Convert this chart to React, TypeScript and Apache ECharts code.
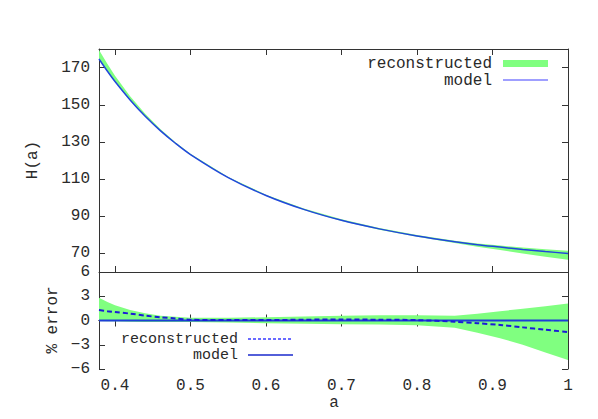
import React, { useEffect, useRef } from "react";
import * as echarts from "echarts";

// scale factor a
const aValues = [0.3788, 0.39, 0.4, 0.42, 0.44, 0.46, 0.48, 0.5, 0.55, 0.6, 0.65, 0.7, 0.75, 0.8, 0.85, 0.88, 0.91, 0.94, 0.97, 1.0];
// model H(a)
const hModel = [174.6, 168.0, 162.5, 152.6, 143.8, 136.1, 129.3, 123.2, 110.8, 101.2, 93.7, 87.8, 83.2, 79.4, 76.3, 74.7, 73.4, 72.1, 71.0, 70.0];
// % error of reconstruction band (upper / lower) and mean
const errUpper = [2.8, 2.3, 1.9, 1.3, 0.9, 0.6, 0.45, 0.35, 0.35, 0.4, 0.5, 0.6, 0.65, 0.65, 0.6, 0.85, 1.15, 1.45, 1.75, 2.1];
const errLower = [-0.05, -0.1, -0.1, -0.15, -0.2, -0.2, -0.2, -0.2, -0.25, -0.35, -0.4, -0.45, -0.5, -0.6, -0.9, -1.5, -2.2, -3.0, -3.95, -4.9];
const errMean = [1.3, 1.15, 1.05, 0.85, 0.6, 0.4, 0.25, 0.1, 0.05, 0.05, 0.1, 0.12, 0.1, 0.05, -0.15, -0.33, -0.55, -0.85, -1.15, -1.42];
const errModel = [0, 0, 0, 0, 0, 0, 0, 0, 0, 0, 0, 0, 0, 0, 0, 0, 0, 0, 0, 0];

const xTicks = [0.4, 0.5, 0.6, 0.7, 0.8, 0.9, 1.0];
const hTicks = [70, 90, 110, 130, 150, 170];
const errTicks = [-6, -3, 0, 3, 6];

const FONT = "Liberation Mono";
const AXIS_COLOR = "#333";
const TEXT_COLOR = "#2a2a2a";
const GREEN = "#80ff80";

export default function App() {
  const ref = useRef<HTMLDivElement>(null);

  useEffect(() => {
    if (!ref.current) return;
    const chart = echarts.init(ref.current, undefined, { renderer: "svg" });

    const hLower = hModel.map((h, i) => h * (1 + errLower[i] / 100));
    const hUpper = hModel.map((h, i) => h * (1 + errUpper[i] / 100));

    const pair = (ys: number[]) => aValues.map((a, i) => [a, ys[i]]);
    const bandData = (lo: number[], up: number[]) => aValues.map((a, i) => [a, lo[i], up[i]]);

    const bandSeries = (xi: number, yi: number, name: string, lo: number[], up: number[]) => ({
      name,
      type: "custom",
      xAxisIndex: xi,
      yAxisIndex: yi,
      data: bandData(lo, up),
      encode: { x: 0, y: [1, 2] },
      silent: true,
      clip: true,
      z: 1,
      renderItem: (params: any, api: any) => {
        if (params.dataIndex !== 0) return null;
        const upper: number[][] = [];
        const lower: number[][] = [];
        for (let i = 0; i < aValues.length; i++) {
          upper.push(api.coord([aValues[i], up[i]]));
          lower.push(api.coord([aValues[i], lo[i]]));
        }
        const pts = upper.concat(lower.reverse());
        return {
          type: "polygon",
          shape: { points: pts },
          style: { fill: GREEN, stroke: "none" },
        };
      },
    });

    const axisLine = { show: true, lineStyle: { color: AXIS_COLOR, width: 1 } };
    const tickStyle = { show: true, inside: true, length: 6, lineStyle: { color: AXIS_COLOR, width: 1 } };
    const labelStyle = { fontFamily: FONT, fontSize: 16, color: TEXT_COLOR };

    const xBase = (gridIndex: number, position: string, showLabel: boolean) => ({
      type: "value",
      gridIndex,
      position,
      min: 0.3788,
      max: 1,
      axisLine,
      splitLine: { show: false },
      axisTick: { ...tickStyle, customValues: xTicks },
      axisLabel: {
        show: showLabel,
        ...labelStyle,
        margin: 9,
        customValues: xTicks,
        formatter: (v: number) => (Math.abs(v - 1) < 1e-9 ? "1" : v.toFixed(1)),
      },
    });

    const minus = (v: number) => (v < 0 ? "\u2212" + Math.abs(v) : String(v));

    const yBase = (gridIndex: number, position: string, showLabel: boolean, min: number, max: number, ticks: number[]) => ({
      type: "value",
      gridIndex,
      position,
      min,
      max,
      axisLine,
      splitLine: { show: false },
      axisTick: { ...tickStyle, customValues: ticks },
      axisLabel: {
        show: showLabel,
        ...labelStyle,
        margin: 9,
        customValues: ticks,
        formatter: (v: number) => minus(v),
      },
    });

    const smooth = 0.3;

    const option: any = {
      animation: false,
      backgroundColor: "#fff",
      grid: [
        { left: 99, right: 30, top: 49, height: 223 },
        { left: 99, right: 30, top: 272, height: 97 },
      ],
      xAxis: [
        xBase(0, "bottom", false),
        xBase(0, "top", false),
        xBase(1, "bottom", true),
        xBase(1, "top", false),
      ],
      yAxis: [
        yBase(0, "left", true, 60, 180, hTicks),
        yBase(0, "right", false, 60, 180, hTicks),
        yBase(1, "left", true, -6, 6, errTicks),
        yBase(1, "right", false, -6, 6, errTicks),
      ],
      series: [
        bandSeries(0, 0, "reconstructed", hLower, hUpper),
        {
          name: "model",
          type: "line",
          xAxisIndex: 0,
          yAxisIndex: 0,
          data: pair(hModel),
          symbol: "none",
          smooth,
          z: 3,
          lineStyle: { color: "#2146dd", width: 1.5 },
        },
        bandSeries(2, 2, "reconstructed band", errLower, errUpper),
        {
          name: "model error",
          type: "line",
          xAxisIndex: 2,
          yAxisIndex: 2,
          data: pair(errModel),
          symbol: "none",
          z: 3,
          lineStyle: { color: "#1d3fd6", width: 2 },
        },
        {
          name: "reconstructed error",
          type: "line",
          xAxisIndex: 2,
          yAxisIndex: 2,
          data: pair(errMean),
          symbol: "none",
          smooth,
          z: 4,
          lineStyle: { color: "#1a1ad8", width: 2, type: [5, 3] },
        },
      ],
      graphic: [
        {
          type: "text",
          x: 33,
          y: 160,
          rotation: Math.PI / 2,
          style: { text: "H(a)", fontFamily: FONT, fontSize: 16, fill: TEXT_COLOR, align: "center", verticalAlign: "middle" },
        },
        {
          type: "text",
          x: 53,
          y: 320,
          rotation: Math.PI / 2,
          style: { text: "% error", fontFamily: FONT, fontSize: 16, fill: TEXT_COLOR, align: "center", verticalAlign: "middle" },
        },
        {
          type: "text",
          x: 334,
          y: 403,
          style: { text: "a", fontFamily: FONT, fontSize: 16, fill: TEXT_COLOR, align: "center", verticalAlign: "middle" },
        },
        // top legend
        {
          type: "text",
          x: 492,
          y: 64,
          style: { text: "reconstructed", fontFamily: FONT, fontSize: 16, fill: TEXT_COLOR, align: "right", verticalAlign: "middle" },
        },
        { type: "rect", shape: { x: 503, y: 60, width: 45, height: 7 }, style: { fill: GREEN } },
        {
          type: "text",
          x: 492,
          y: 81,
          style: { text: "model", fontFamily: FONT, fontSize: 16, fill: TEXT_COLOR, align: "right", verticalAlign: "middle" },
        },
        { type: "line", shape: { x1: 503, y1: 80, x2: 548, y2: 80 }, style: { stroke: "#7f7fff", lineWidth: 1.5 } },
        // bottom legend
        {
          type: "text",
          x: 238,
          y: 339,
          style: { text: "reconstructed", fontFamily: FONT, fontSize: 15, fill: TEXT_COLOR, align: "right", verticalAlign: "middle" },
        },
        { type: "line", shape: { x1: 248, y1: 339, x2: 293, y2: 339 }, style: { stroke: "#3a3aff", lineWidth: 1.5, lineDash: [3, 2] } },
        {
          type: "text",
          x: 238,
          y: 355,
          style: { text: "model", fontFamily: FONT, fontSize: 15, fill: TEXT_COLOR, align: "right", verticalAlign: "middle" },
        },
        { type: "line", shape: { x1: 248, y1: 355, x2: 293, y2: 355 }, style: { stroke: "#1a2acc", lineWidth: 1.5 } },
      ],
    };

    chart.setOption(option);
    return () => chart.dispose();
  }, []);

  return <div ref={ref} style={{ position: "absolute", left: 0, top: 0, width: 598, height: 419 }} />;
}
